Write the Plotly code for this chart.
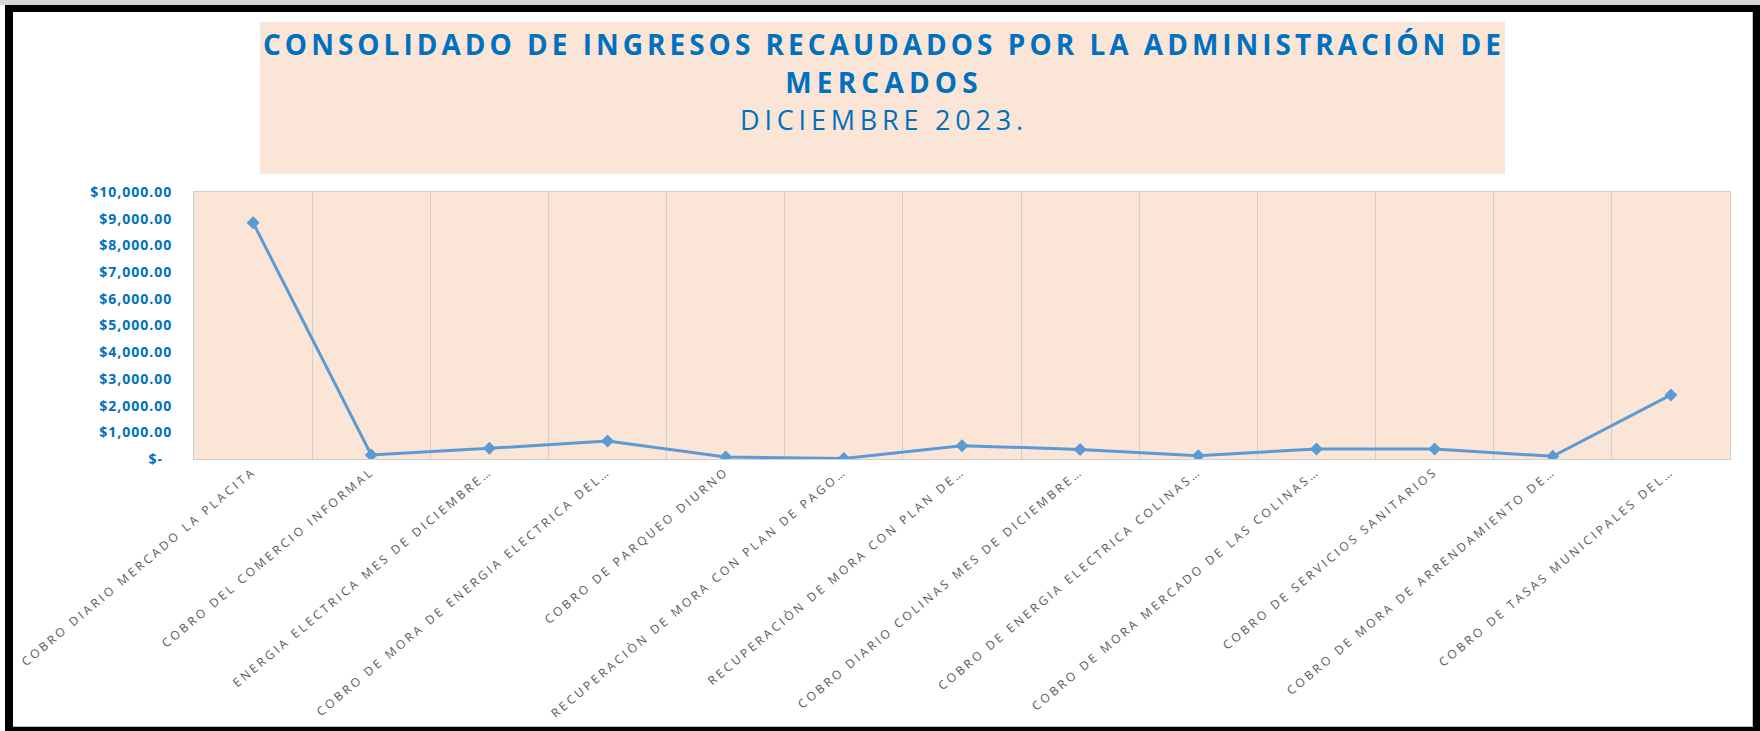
import plotly.graph_objects as go

# ---------------- data ----------------
categories = [
    "COBRO DIARIO MERCADO LA PLACITA",
    "COBRO DEL COMERCIO INFORMAL",
    "ENERGIA ELECTRICA MES DE DICIEMBRE…",
    "COBRO DE MORA DE ENERGIA ELECTRICA DEL…",
    "COBRO DE PARQUEO DIURNO",
    "RECUPERACIÒN DE MORA CON PLAN DE PAGO…",
    "RECUPERACIÒN DE MORA CON PLAN DE…",
    "COBRO DIARIO COLINAS MES DE DICIEMBRE…",
    "COBRO DE ENERGIA ELECTRICA COLINAS…",
    "COBRO DE MORA MERCADO DE LAS COLINAS…",
    "COBRO DE SERVICIOS SANITARIOS",
    "COBRO DE MORA DE ARRENDAMIENTO DE…",
    "COBRO DE TASAS MUNICIPALES DEL…",
]
ingresos = [8850, 150, 400, 675, 75, 20, 500, 360, 125, 375, 375, 100, 2400]

y_tick_values = [0, 1000, 2000, 3000, 4000, 5000, 6000, 7000, 8000, 9000, 10000]
y_tick_labels = ["$-\u00a0\u00a0", "$1,000.00", "$2,000.00", "$3,000.00", "$4,000.00",
                 "$5,000.00", "$6,000.00", "$7,000.00", "$8,000.00", "$9,000.00",
                 "$10,000.00"]

title_lines = [
    "CONSOLIDADO DE INGRESOS RECAUDADOS POR LA ADMINISTRACIÓN DE",
    "MERCADOS",
    "DICIEMBRE 2023.",
]

# ---------------- layout geometry (pixels) ----------------
W, H = 1760, 731
L, R, T, B = 194, 1730, 192, 459


def px(x):
    return (x - L) / (R - L)


def py(y):
    return (B - y) / (B - T)


BLUE = "#0070C0"
PEACH = "#FBE5D6"
LINE = "#5B9BD5"
GRID = "#D0D0D0"

fig = go.Figure()
fig.add_trace(go.Scatter(
    x=categories, y=ingresos, mode="lines+markers",
    line=dict(color=LINE, width=3),
    marker=dict(symbol="diamond", size=10, color=LINE),
    showlegend=False, hoverinfo="x+y",
))

shapes = [
    # title box
    dict(type="rect", xref="paper", yref="paper", x0=px(260), x1=px(1505), y0=py(174), y1=py(22),
         fillcolor=PEACH, line=dict(width=0), layer="below"),
    # top gray strip
    dict(type="rect", xref="paper", yref="paper", x0=px(0), x1=px(1760), y0=py(5), y1=py(0),
         fillcolor="#D6D6D6", line=dict(width=0), layer="above"),
    # black frame
    dict(type="rect", xref="paper", yref="paper", x0=px(5), x1=px(13), y0=py(731), y1=py(5),
         fillcolor="black", line=dict(width=0), layer="above"),
    dict(type="rect", xref="paper", yref="paper", x0=px(5), x1=px(1760), y0=py(12), y1=py(5),
         fillcolor="black", line=dict(width=0), layer="above"),
    dict(type="rect", xref="paper", yref="paper", x0=px(1753), x1=px(1760), y0=py(731), y1=py(5),
         fillcolor="black", line=dict(width=0), layer="above"),
    dict(type="rect", xref="paper", yref="paper", x0=px(5), x1=px(1760), y0=py(731), y1=py(727),
         fillcolor="black", line=dict(width=0), layer="above"),
    # inner light gray edge
    dict(type="line", xref="paper", yref="paper", x0=px(1752.5), x1=px(1752.5), y0=py(726.5), y1=py(12),
         line=dict(color="#BFBFBF", width=1), layer="above"),
    dict(type="line", xref="paper", yref="paper", x0=px(13), x1=px(1752.5), y0=py(726.5), y1=py(726.5),
         line=dict(color="#BFBFBF", width=1), layer="above"),
]

title_y = [44, 82, 119]
title_weight = [700, 700, 400]
title_size = [28, 28, 27]
annotations = []
for txt, yy, wgt, sz in zip(title_lines, title_y, title_weight, title_size):
    annotations.append(dict(
        text=txt, x=px(884), y=py(yy), xref="paper", yref="paper",
        xanchor="center", yanchor="middle", showarrow=False,
        font=dict(family="Open Sans", size=sz, color=BLUE, weight=wgt),
    ))

fig.update_layout(
    width=W, height=H,
    margin=dict(l=L, r=W - R, t=T, b=H - B, autoexpand=False),
    paper_bgcolor="white",
    plot_bgcolor=PEACH,
    shapes=shapes,
    annotations=annotations,
    showlegend=False,
)

fig.update_xaxes(
    type="category", range=[-0.5, len(categories) - 0.5],
    tickson="boundaries", showgrid=True, gridcolor=GRID, gridwidth=1,
    showline=True, linecolor=GRID, linewidth=1, mirror=True,
    ticks="", tickangle=-40, automargin=False,
    tickfont=dict(family="Open Sans", size=12, color="#595959"),
    zeroline=False,
)
fig.update_yaxes(
    range=[0, 10000], tickvals=y_tick_values, ticktext=y_tick_labels,
    showgrid=False, zeroline=False,
    showline=True, linecolor=GRID, linewidth=1, mirror=True,
    ticks="", ticklabelstandoff=18, automargin=False,
    tickfont=dict(family="Open Sans", size=14, color=BLUE, weight=700),
)

post = """
document.documentElement.style.margin = '0';
document.documentElement.style.overflow = 'hidden';
document.body.style.margin = '0';
document.body.style.overflow = 'hidden';
var gd = document.getElementById('{plot_id}');
function applySpacing(){
  gd.querySelectorAll('.xtick text').forEach(function(t){ t.style.letterSpacing = '2.9px'; });
  gd.querySelectorAll('.ytick text').forEach(function(t){ t.style.letterSpacing = '1px'; });
  var sp = ['4.0px', '5.2px', '4.8px'];
  gd.querySelectorAll('.annotation').forEach(function(a){
    var i = parseInt(a.getAttribute('data-index'));
    var t = a.querySelector('text');
    if (t && sp[i]) { t.style.letterSpacing = sp[i]; }
  });
}
applySpacing();
gd.on('plotly_afterplot', applySpacing);
"""

fig.write_html("out.html", post_script=post, config={"displayModeBar": False})
